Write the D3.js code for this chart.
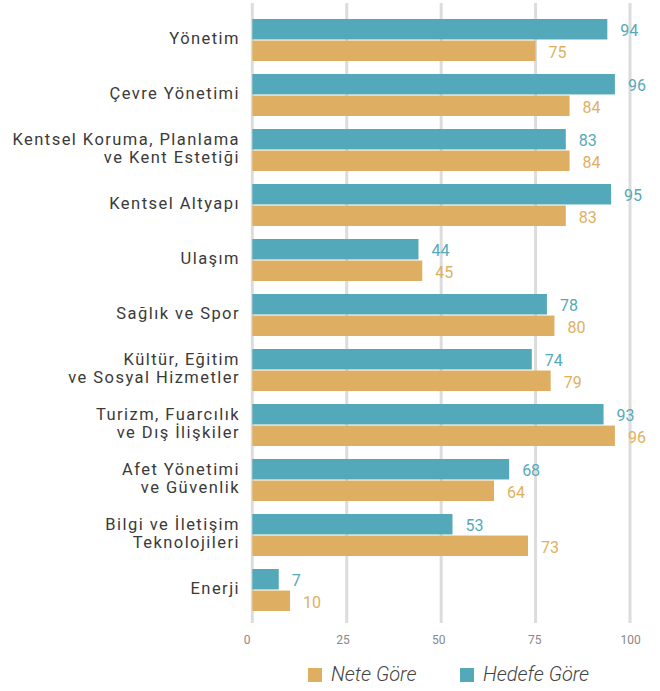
<!DOCTYPE html>
<html><head><meta charset="utf-8">
<script src="https://cdn.jsdelivr.net/npm/d3@7"></script>
<style>body{margin:0;background:#fff}svg{display:block}text{font-family:Roboto,"Noto Sans",sans-serif}</style>
</head><body><div id="chart"></div>
<script>
const categories = [
  ["Yönetim"],
  ["Çevre Yönetimi"],
  ["Kentsel Koruma, Planlama","ve Kent Estetiği"],
  ["Kentsel Altyapı"],
  ["Ulaşım"],
  ["Sağlık ve Spor"],
  ["Kültür, Eğitim","ve Sosyal Hizmetler"],
  ["Turizm, Fuarcılık","ve Dış İlişkiler"],
  ["Afet Yönetimi","ve Güvenlik"],
  ["Bilgi ve İletişim","Teknolojileri"],
  ["Enerji"]
];
const hedefeGore = [94,96,83,95,44,78,74,93,68,53,7];
const neteGore   = [75,84,84,83,45,80,79,96,64,73,10];
const seriesNames = ["Hedefe Göre","Nete Göre"];
const legendNames = ["Nete Göre","Hedefe Göre"];
const xTicks = [0,25,50,75,100];

const W=660,H=691;
const teal="#53a9b9", gold="#deaf62";
const tealText="#55a9b9", goldText="#e0b05f";
const svg=d3.select("#chart").append("svg").attr("width",W).attr("height",H);

const x=d3.scaleLinear().domain([0,100]).range([252.3,630]);
const xLab=d3.scaleLinear().domain([0,100]).range([246.7,630]);
const y=d3.scaleBand().domain(d3.range(categories.length)).range([19,624]).paddingInner(0).paddingOuter(0);
const sub=d3.scaleBand().domain(seriesNames).range([0,42]).paddingInner(0.05);

// gridlines
svg.append("g").selectAll("line").data(xTicks).join("line")
  .attr("x1",d=>x(d)).attr("x2",d=>x(d)).attr("y1",3).attr("y2",623)
  .attr("stroke","#dcdcdc").attr("stroke-width",3);

// axis labels
const ax=svg.append("g").attr("transform","translate(0,640)")
  .call(d3.axisBottom(xLab).tickValues(xTicks).tickSize(0).tickPadding(0));
ax.select(".domain").remove();
ax.selectAll("text").attr("fill","#888").attr("font-size",12).attr("font-family","Roboto,sans-serif").attr("dy","0.35em");

const series=[{name:"Hedefe Göre",vals:hedefeGore,c:teal,tc:tealText},{name:"Nete Göre",vals:neteGore,c:gold,tc:goldText}];
series.forEach(s=>{
  const g=svg.append("g");
  g.selectAll("rect").data(s.vals).join("rect")
    .attr("x",x(0)).attr("y",(d,i)=>y(i)+sub(s.name))
    .attr("width",d=>x(d)-x(0)).attr("height",sub.bandwidth()).attr("fill",s.c);
  g.selectAll("text").data(s.vals).join("text")
    .attr("x",d=>x(d)+13).attr("y",(d,i)=>y(i)+sub(s.name)+sub.bandwidth()/2+1.5)
    .attr("dy","0.35em").attr("fill",s.tc).attr("font-size",16)
    .text(d=>d);
});

// category labels
const lab=svg.append("g").selectAll("text").data(categories).join("text")
  .attr("x",240).attr("text-anchor","end").attr("fill","#3a3a3a").attr("font-size",16.5).attr("letter-spacing",1.45);
lab.each(function(lines,i){
  const c=y(i)+21;
  const t=d3.select(this);
  lines.forEach((ln,j)=>{
    const base = lines.length===1 ? c+3.5 : c-5.5+j*18.5;
    t.append("tspan").attr("x",240).attr("y",base).text(ln);
  });
});

// legend
const leg=svg.append("g");
const legItems=[{n:legendNames[0],c:gold,x:308},{n:legendNames[1],c:teal,x:460}];
legItems.forEach(it=>{
  leg.append("rect").attr("x",it.x).attr("y",668).attr("width",14).attr("height",14).attr("fill",it.c);
  leg.append("text").attr("x",it.x+23).attr("y",681).attr("font-size",20).attr("font-style","italic").attr("font-weight",300)
    .attr("fill","#444").text(it.n);
});
</script></body></html>
